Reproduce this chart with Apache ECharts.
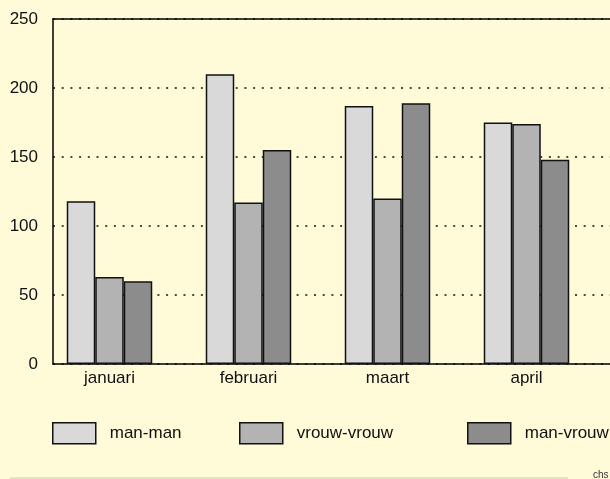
<!DOCTYPE html>
<html>
<head>
<meta charset="utf-8">
<script src="https://cdn.jsdelivr.net/npm/echarts@6/dist/echarts.min.js"></script>
<style>
  html, body { margin: 0; padding: 0; background: #fffad8; }
  #chart { width: 610px; height: 479px; }
</style>
</head>
<body>
<div id="chart"></div>
<script>
// maanden en reeksen
const months = ['januari', 'februari', 'maart', 'april'];
const seriesNames = ['man-man', 'vrouw-vrouw', 'man-vrouw'];
const manMan = [118, 210, 187, 175];
const vrouwVrouw = [63, 117, 120, 174];
const manVrouw = [60, 155, 189, 148];
const barColors = ['#d9d9d9', '#b3b3b3', '#8c8c8c'];

const font = 'Liberation Sans, Arial, sans-serif';

function makeBar(name, data, color) {
    return {
        name: name,
        type: 'bar',
        xAxisIndex: 1,
        yAxisIndex: 1,
        data: data,
        barWidth: 28.5,
        barGap: '0%',
        itemStyle: { color: color, borderColor: '#111', borderWidth: 1.5 },
        emphasis: { disabled: true }
    };
}

function makeLegend(i, left) {
    return {
        data: [seriesNames[i]],
        left: left,
        top: 422,
        padding: 0,
        itemWidth: 43,
        itemHeight: 21,
        icon: 'rect',
        selectedMode: false,
        textStyle: { fontFamily: font, fontSize: 17, color: '#111', padding: [0, 0, 0, 9] },
        itemStyle: { borderColor: '#111', borderWidth: 1.5 }
    };
}

const chart = echarts.init(document.getElementById('chart'));
chart.setOption({
    backgroundColor: '#fffad8',
    animation: false,
    grid: [
        { left: 53, top: 19, right: -40, bottom: 115 },
        { left: 40, top: 19, width: 556, bottom: 115 }
    ],
    xAxis: [
        {
            type: 'value', gridIndex: 0, min: 0, max: 1,
            axisLine: { show: true, lineStyle: { color: '#000', width: 1.5 } },
            axisTick: { show: false }, axisLabel: { show: false }, splitLine: { show: false }
        },
        {
            type: 'category', gridIndex: 1, data: months,
            axisLine: { show: false }, axisTick: { show: false },
            axisLabel: { fontFamily: font, fontSize: 17, color: '#111', margin: 6 }
        },
        {
            type: 'value', gridIndex: 0, position: 'top', min: 0, max: 1,
            axisLine: { show: true, lineStyle: { color: '#000', width: 1.5 } },
            axisTick: { show: false }, axisLabel: { show: false }, splitLine: { show: false }
        }
    ],
    yAxis: [
        {
            type: 'value', gridIndex: 0, min: 0, max: 250, interval: 50,
            axisLine: { show: true, lineStyle: { color: '#000', width: 1.5 } },
            axisTick: { show: false },
            axisLabel: { fontFamily: font, fontSize: 17, color: '#111', margin: 15 },
            splitLine: { show: true, lineStyle: { color: '#111', type: [2, 6.7], width: 1.5 } }
        },
        {
            type: 'value', gridIndex: 1, min: 0, max: 250, interval: 50,
            show: false
        }
    ],
    legend: [
        makeLegend(0, 52),
        makeLegend(1, 239),
        makeLegend(2, 467)
    ],
    graphic: [
        {
            type: 'line', shape: { x1: 10, y1: 478, x2: 568, y2: 478 },
            style: { stroke: '#dcd8bc', lineWidth: 1.5 }, silent: true
        },
        {
            type: 'text', left: 593, top: 470,
            style: { text: 'chs', fontFamily: font, fontSize: 10, fill: '#333' }, silent: true
        }
    ],
    series: [
        makeBar(seriesNames[0], manMan, barColors[0]),
        makeBar(seriesNames[1], vrouwVrouw, barColors[1]),
        makeBar(seriesNames[2], manVrouw, barColors[2])
    ]
});
</script>
</body>
</html>
